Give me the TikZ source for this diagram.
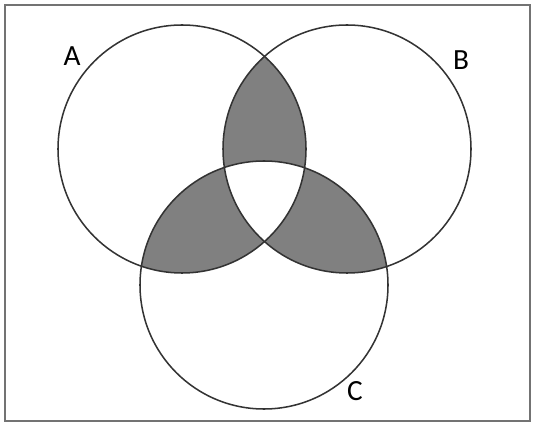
\documentclass[tikz,border=0pt]{standalone}
\usepackage{fontspec}
\setmainfont{Carlito}

\begin{document}
\begin{tikzpicture}[
  x=0.03cm, y=-0.03cm,
  setline/.style={draw=black!80, line width=1.3pt},
  frame/.style={draw=black!55, line width=2.2pt},
  shade/.style={fill=black!50},
  setlabel/.style={font=\fontsize{25}{30}\selectfont, text=black, anchor=base, inner sep=0pt}
]
\useasboundingbox (0,0) rectangle (534,428);

% universe
\draw[frame] (5,5) rectangle (530,421);

% centres of the three sets
\coordinate (A) at (182,149);
\coordinate (B) at (347,149);
\coordinate (C) at (264,285);
\def\rad{124}

% pairwise overlaps
\begin{scope}
  \clip (A) circle[radius=\rad];
  \fill[shade] (B) circle[radius=\rad];
  \fill[shade] (C) circle[radius=\rad];
\end{scope}
\begin{scope}
  \clip (B) circle[radius=\rad];
  \fill[shade] (C) circle[radius=\rad];
\end{scope}
% triple overlap left blank
\begin{scope}
  \clip (A) circle[radius=\rad];
  \clip (B) circle[radius=\rad];
  \fill[white] (C) circle[radius=\rad];
\end{scope}

\draw[setline] (A) circle[radius=\rad];
\draw[setline] (B) circle[radius=\rad];
\draw[setline] (C) circle[radius=\rad];

\node[setlabel] (labA) at (72,66) {A};
\node[setlabel] (labB) at (461,70) {B};
\node[setlabel] (labC) at (355,400) {C};

\end{tikzpicture}
\end{document}
